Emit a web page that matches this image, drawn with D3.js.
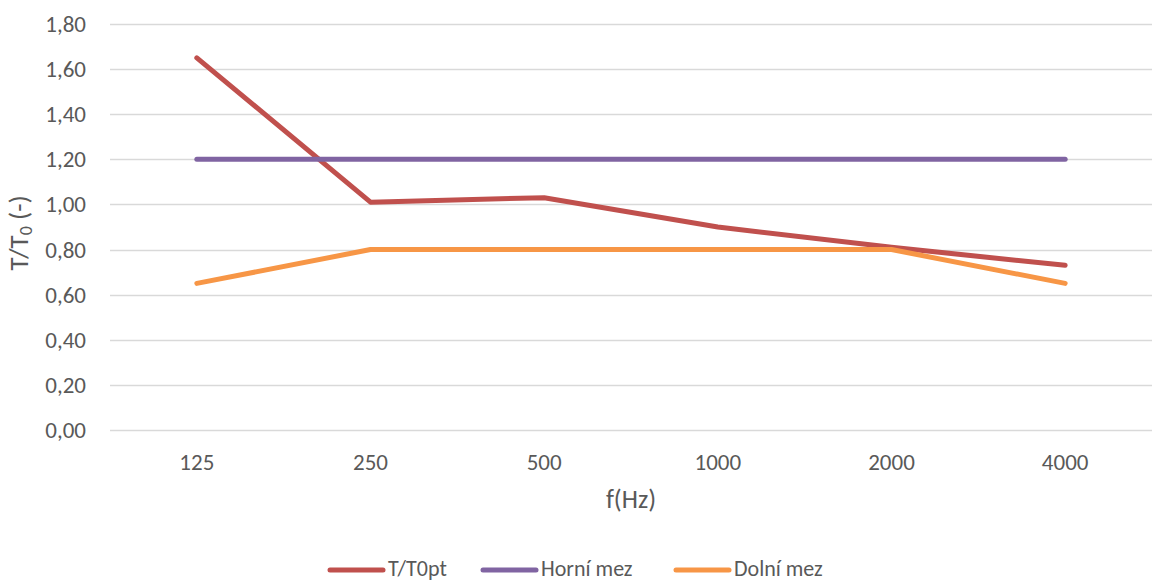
<!DOCTYPE html>
<html>
<head>
<meta charset="utf-8">
<script src="https://cdnjs.cloudflare.com/ajax/libs/d3/7.8.5/d3.min.js"></script>
<style>
  html, body { margin: 0; padding: 0; background: #fff; }
  svg text { font-family: Carlito, Lato, "Open Sans", sans-serif; fill: #595959; }
</style>
</head>
<body>
<svg id="chart" width="1154" height="583"></svg>
<script>
(function (d3) {
    'use strict';

    var categories = ['125', '250', '500', '1000', '2000', '4000'],
        ratio = [1.65, 1.01, 1.03, 0.90, 0.81, 0.73],
        upper = [1.20, 1.20, 1.20, 1.20, 1.20, 1.20],
        lower = [0.65, 0.80, 0.80, 0.80, 0.80, 0.65],
        yTicks = [0, 0.2, 0.4, 0.6, 0.8, 1.0, 1.2, 1.4, 1.6, 1.8];

    var series = [
        { name: 'T/T0pt', values: ratio, color: '#C0504D' },
        { name: 'Horní mez', values: upper, color: '#8064A2' },
        { name: 'Dolní mez', values: lower, color: '#F79646' }
    ];

    var svg = d3.select('#chart'),
        left = 110, right = 1152, top = 24, bottom = 430;

    var x = d3.scaleBand().domain(categories).range([left, right]).padding(0);
    var y = d3.scaleLinear().domain([0, 1.8]).range([bottom, top]);

    // gridlines
    svg.append('g')
        .selectAll('line')
        .data(yTicks)
        .enter()
        .append('line')
        .attr('x1', left)
        .attr('x2', right)
        .attr('y1', function (d) { return Math.round(y(d)) + 0.5; })
        .attr('y2', function (d) { return Math.round(y(d)) + 0.5; })
        .attr('stroke', '#d9d9d9')
        .attr('stroke-width', 1.3);

    // y tick labels
    svg.append('g')
        .selectAll('text')
        .data(yTicks)
        .enter()
        .append('text')
        .attr('x', 86)
        .attr('y', function (d) { return y(d) + 8; })
        .attr('text-anchor', 'end')
        .style('font-size', '23px')
        .text(function (d) { return d.toFixed(2).replace('.', ','); });

    // x tick labels
    svg.append('g')
        .selectAll('text')
        .data(categories)
        .enter()
        .append('text')
        .attr('x', function (d) { return x(d) + x.bandwidth() / 2; })
        .attr('y', 470)
        .attr('text-anchor', 'middle')
        .style('font-size', '23px')
        .text(function (d) { return d; });

    // axis titles
    svg.append('text')
        .attr('x', 631)
        .attr('y', 508)
        .attr('text-anchor', 'middle')
        .style('font-size', '26px')
        .text('f(Hz)');

    var yTitle = svg.append('text')
        .attr('transform', 'translate(28,233) rotate(-90)')
        .attr('text-anchor', 'middle')
        .style('font-size', '27px');
    yTitle.append('tspan').text('T/T');
    yTitle.append('tspan').attr('dy', 4).style('font-size', '18px').text('0');
    yTitle.append('tspan').attr('dy', -4).text(' (-)');

    // lines
    var line = d3.line()
        .x(function (d, i) { return x(categories[i]) + x.bandwidth() / 2; })
        .y(function (d) { return y(d); });

    svg.append('g')
        .selectAll('path')
        .data(series)
        .enter()
        .append('path')
        .attr('d', function (s) { return line(s.values); })
        .attr('fill', 'none')
        .attr('stroke', function (s) { return s.color; })
        .attr('stroke-width', 5)
        .attr('stroke-linecap', 'round')
        .attr('stroke-linejoin', 'round');

    // legend
    var legendX = [330, 483, 676];
    var legend = svg.append('g')
        .selectAll('g')
        .data(series)
        .enter()
        .append('g')
        .attr('transform', function (s, i) { return 'translate(' + legendX[i] + ',570)'; });

    legend.append('line')
        .attr('x1', 0)
        .attr('x2', 53)
        .attr('stroke', function (s) { return s.color; })
        .attr('stroke-width', 5)
        .attr('stroke-linecap', 'round');

    legend.append('text')
        .attr('x', 58)
        .attr('y', 6)
        .style('font-size', '22px')
        .text(function (s) { return s.name; });
})(d3);
</script>
</body>
</html>
